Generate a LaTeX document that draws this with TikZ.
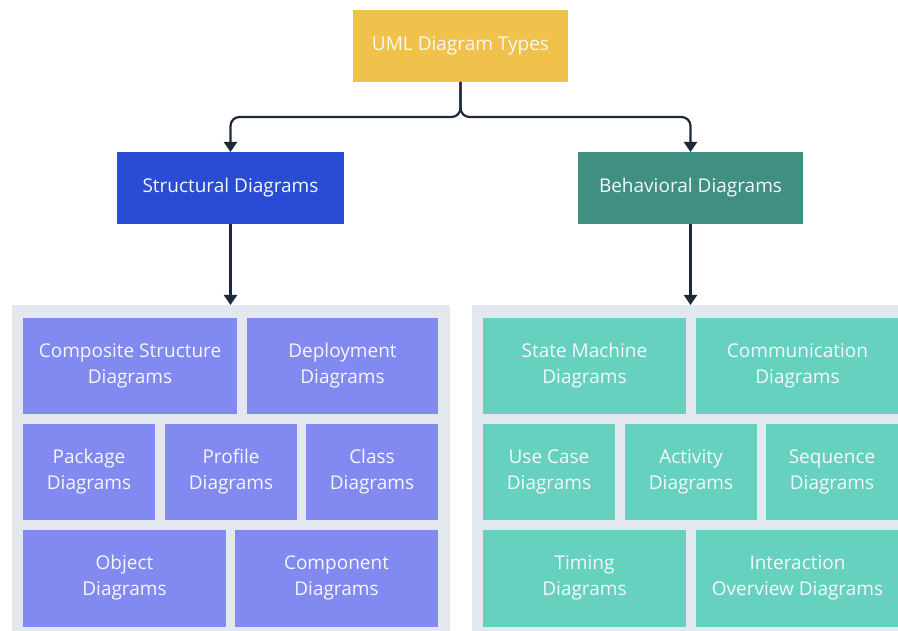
\documentclass[tikz,border=0pt]{standalone}
\usepackage{fontspec}
\setmainfont{Open Sans}
\usetikzlibrary{arrows.meta}
\definecolor{titleyellow}{HTML}{F0C24C}
\definecolor{structblue}{HTML}{2A4BD3}
\definecolor{behavteal}{HTML}{3F8F82}
\definecolor{cellpurple}{HTML}{8289F0}
\definecolor{cellteal}{HTML}{66D1BE}
\definecolor{groupgray}{HTML}{E3E7EE}
\definecolor{linkdark}{HTML}{1E2A3B}
\definecolor{labelwhite}{HTML}{F5F7FB}
\tikzset{
  box/.style={rectangle, inner sep=0pt, outer sep=0pt, text=labelwhite, align=center,
    font=\fontsize{19}{26}\selectfont},
  headbox/.style={box, minimum height=72pt},
  group/.style={rectangle, fill=groupgray, inner sep=0pt, outer sep=0pt},
  scell/.style={box, fill=cellpurple},
  bcell/.style={box, fill=cellteal},
  link/.style={draw=linkdark, line width=2.2pt, rounded corners=9pt,
    -{Triangle[width=13pt,length=10pt]}},
}
\begin{document}
\begin{tikzpicture}[x=1pt, y=-1pt]
\clip (0,0) rectangle (898,631);
\fill[white] (0,0) rectangle (898,631);

% header nodes
\node[headbox, fill=titleyellow, minimum width=215pt] (uml) at (460.5,46) {UML Diagram Types};
\node[headbox, fill=structblue, minimum width=227pt] (struct) at (230.5,188) {Structural Diagrams};
\node[headbox, fill=behavteal, minimum width=225pt] (behav) at (690.5,188) {Behavioral Diagrams};

% grouping panels
\node[group, minimum width=438pt, minimum height=335pt] (sgroup) at (231,472.5) {};
\node[group, minimum width=438pt, minimum height=335pt] (bgroup) at (691,472.5) {};

% structural diagram kinds
\node[scell, minimum width=214pt, minimum height=96pt] (composite) at (130,366) {Composite Structure\\Diagrams};
\node[scell, minimum width=191pt, minimum height=96pt] (deployment) at (342.5,366) {Deployment\\Diagrams};
\node[scell, minimum width=132pt, minimum height=96pt] (package) at (89,471.5) {Package\\Diagrams};
\node[scell, minimum width=132pt, minimum height=96pt] (profile) at (231,471.5) {Profile\\Diagrams};
\node[scell, minimum width=132pt, minimum height=96pt] (class) at (372,471.5) {Class\\Diagrams};
\node[scell, minimum width=203pt, minimum height=97pt] (object) at (124.5,578) {Object\\Diagrams};
\node[scell, minimum width=203pt, minimum height=97pt] (component) at (336.5,578) {Component\\Diagrams};

% behavioral diagram kinds
\node[bcell, minimum width=203pt, minimum height=96pt] (statemachine) at (584.5,366) {State Machine\\Diagrams};
\node[bcell, minimum width=203pt, minimum height=96pt] (communication) at (797.5,366) {Communication\\Diagrams};
\node[bcell, minimum width=132pt, minimum height=96pt] (usecase) at (549,471.5) {Use Case\\Diagrams};
\node[bcell, minimum width=132pt, minimum height=96pt] (activity) at (691,471.5) {Activity\\Diagrams};
\node[bcell, minimum width=132pt, minimum height=96pt] (sequence) at (832,471.5) {Sequence\\Diagrams};
\node[bcell, minimum width=203pt, minimum height=97pt] (timing) at (584.5,578) {Timing\\Diagrams};
\node[bcell, minimum width=203pt, minimum height=97pt] (interaction) at (797.5,578) {Interaction\\Overview Diagrams};

% connectors
\coordinate (split) at (uml.south |- 0,117);
\draw[link] (uml.south) -- (split) -- (struct.north |- split) -- (struct.north);
\draw[link] (uml.south) -- (split) -- (behav.north |- split) -- (behav.north);
\draw[link] (struct.south) -- (struct.south |- sgroup.north);
\draw[link] (behav.south) -- (behav.south |- bgroup.north);
\end{tikzpicture}
\end{document}
